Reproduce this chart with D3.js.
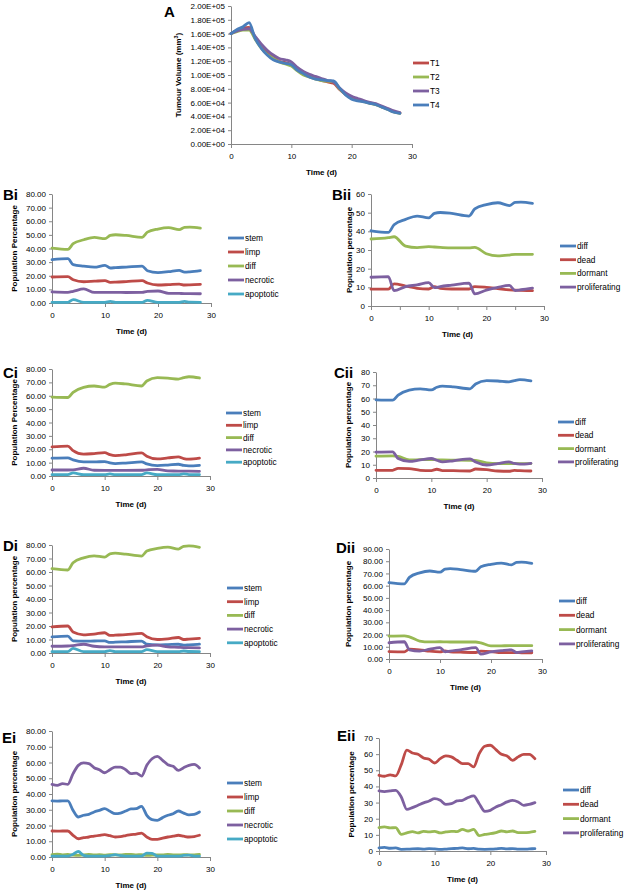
<!DOCTYPE html>
<html><head><meta charset="utf-8">
<script src="https://cdn.jsdelivr.net/npm/d3@7"></script>
<style>body{margin:0;background:#fff} svg{display:block} text{font-family:"Liberation Sans",Arial,sans-serif}</style>
</head><body><svg id="c" width="629" height="892"></svg>
<script>
// ---------- DATA ----------
const daysA = [0,1,2,3,4,5,6,7,8,9,10,11,12,13,14,15,16,17,18,19,20,21,22,23,24,25,26,27,28];
const A_T1 = [160000,165000,168000,169000,154000,141000,132000,125000,120000,118000,115000,108000,102000,98000,95000,92000,90000,88000,79000,72000,67000,64500,62000,59500,57500,54000,50500,47000,45000];
const A_T2 = [160000,163000,165000,165000,152000,139000,130000,124000,119000,116000,113000,106000,100000,97000,94000,92000,91000,90000,80000,72000,66000,63500,61500,59000,57000,53500,50000,46500,44500];
const A_T3 = [160000,164000,166000,167000,156000,145000,136000,129000,124000,122000,119000,111000,105000,101000,98000,95000,92000,90000,81000,74000,69000,66000,63000,60500,58500,55000,51500,48000,45500];
const A_T4 = [160000,166000,170000,176000,153000,139000,129000,122000,119000,117000,115000,107000,102000,97000,94000,93000,92000,91500,81000,71000,65000,62500,61000,59000,57000,53500,50000,46000,44500];

const daysBCD = [0,3,4,6,8,10,11,12,14,17,18,20,22,24,25,26,28];
const Bi_stem      = [31.8,32.5,28.1,27,26.3,27.6,25.7,26,26.4,27.1,23.7,22.3,23,24,22.7,22.9,23.7];
const Bi_limp      = [19.1,19.3,17.1,15.6,16,16.4,15.2,15.3,15.7,16.4,14.7,13.2,13.5,13.9,13.2,13.3,13.7];
const Bi_diff      = [40.3,39.4,43.5,46.4,48.2,47.2,49.6,50.1,49.6,48.2,52,54.3,55.3,53.8,55.5,55.7,55];
const Bi_necrotic  = [8.1,7.8,8.6,10.3,7.8,7.8,7.8,7.8,7.7,7.8,8.6,8.8,7.1,7,6.9,6.9,6.8];
const Bi_apoptotic = [0.5,0.5,2.5,0.5,0.5,0.5,1.2,0.5,0.5,0.5,2.0,0.5,0.5,0.5,1.2,0.6,0.5];
const Bii_diff     = [40.3,39.4,43.5,46.4,48.2,47.2,49.6,50.1,49.6,48.2,52,54.3,55.3,53.8,55.5,55.7,55];
const Bii_dead     = [9,9,11.8,10.7,9.5,9.1,10.4,9.5,9.1,9.1,10.4,10,9.3,8.6,8.5,8.4,8.2];
const Bii_dormant  = [35.9,36.6,37.1,32.1,31.3,31.8,31.6,31.4,31.1,31.1,31.4,28,26.8,27.3,27.7,27.7,27.7];
const Bii_prolif   = [15.4,15.7,8.2,10.4,11.3,12.5,9.8,10.4,11.2,12.3,6.5,8.5,10,11,8.3,8.7,9.6];

const Ci_stem      = [13.3,13.5,12,10.5,10.5,10.8,9.8,9.3,9.7,10.5,9,7.8,8.2,8.8,7.9,7.6,8];
const Ci_limp      = [21.8,22.3,19,16.3,16.8,17.5,16,15.3,15.8,17.3,14.8,12.8,13.5,14.3,13,12.6,13.3];
const Ci_diff      = [59,58.7,62.5,66.3,67.3,66.5,68.5,69.4,68.8,67.3,71,73.5,73.2,72.5,73.5,74.2,73.3];
const Ci_necrotic  = [4.5,4.5,4.6,5.8,4.3,4.2,4.2,4.2,4.2,4.3,4.6,5,3.8,3.7,3.6,3.6,3.5];
const Ci_apoptotic = [1,1,2.3,1,1,1,1.6,1,1,1,2.3,1,1,1,1.6,1.1,1];
const Cii_diff     = [59,58.7,62.5,66.3,67.3,66.5,68.5,69.4,68.8,67.3,71,73.5,73.2,72.5,73.5,74.2,73.3];
const Cii_dead     = [5.8,5.8,7.3,7.1,5.8,5.6,6.6,5.6,5.5,5.3,6.8,6.3,5.3,5.1,5.8,5.5,5.3];
const Cii_dormant  = [16.5,16.7,16.3,13.6,13.8,13.9,13.7,13.6,13.5,13.4,13.2,11.5,10.9,10.9,10.9,10.9,10.9];
const Cii_prolif   = [19.5,19.7,14.7,12.5,13.6,14.7,13.4,12.2,13,14.4,12,9.8,10.9,12.2,11,10.4,11.1];

const Di_stem      = [12,12.5,9,8.8,8.9,9,7.8,8,8.3,8.8,6.5,6,6.2,6.5,5.8,6,6.5];
const Di_limp      = [19.3,20,15.5,13.5,14,15,13,13.2,13.6,14.5,12,10,10.5,11.5,10,10.3,10.8];
const Di_diff      = [62.5,61.5,66.8,70.5,72,71,73.5,74,73.2,71.8,75.5,77.5,78.5,77,79,79.3,78.3];
const Di_necrotic  = [5,5.2,5.5,6.5,5,4.5,4.5,4.5,4.5,4.5,5.3,5.8,4.5,4.2,4,4,3.8];
const Di_apoptotic = [1,1,3.5,1,1,1,1.8,1,1,1,2.5,1,1,1,1.5,1.1,1];
const Dii_diff     = [62.5,61.5,66.8,70.5,72,71,73.5,74,73.2,71.8,75.5,77.5,78.5,77,79,79.3,78.3];
const Dii_dead     = [6.1,5.9,8,7.5,6.4,5.9,6.7,5.9,5.6,5.3,6.4,6.1,5.3,5.2,5.2,5.1,5.1];
const Dii_dormant  = [18.7,18.9,18.1,14.7,14,14.1,14,13.9,13.9,13.9,13.2,10.7,10.8,10.9,10.9,10.9,10.9];
const Dii_prolif   = [13.3,14.1,7.5,6.5,8,9.3,5.9,6.5,7.5,9.3,4,5.9,6.8,7.5,5.3,5.8,6.7];

const daysE = [0,1,2,3,4,5,6,7,8,9,10,11,12,13,14,15,16,17,18,19,20,21,22,23,24,25,26,27,28];
const Ei_stem      = [35.6,35.5,35.6,35.6,29.6,25.4,26.5,27.1,28.6,29.6,30.7,29,27.5,27.9,29.2,30.5,30.7,32.2,26.5,23.7,23.3,25,26.5,27.5,29.2,27.9,26.8,27.1,28.6];
const Ei_limp      = [16.5,16.4,16.5,16.5,13.8,11.6,12.3,12.7,13.3,13.8,14.2,13.5,12.7,13,13.6,14.2,14.5,15.2,12.7,11.2,11.2,12,12.7,13.2,13.8,13.2,12.7,13,13.8];
const Ei_diff      = [1.5,1.8,1.4,1.6,1.2,1.0,1.4,1.6,1.3,1.5,1.2,1.5,1.4,1.3,1.6,1.7,1.4,1.5,1.0,1.2,1.4,1.3,1.6,1.4,1.3,1.5,1.4,1.3,1.6];
const Ei_necrotic  = [46.1,45.5,46.6,46.1,52.9,58.2,59.7,59.3,56.7,55.4,53.5,55.4,57.1,57.1,55.4,52.9,53.3,51.4,58.2,62.4,63.9,61.4,58.6,57.6,55,56.7,58.2,58.8,56.5];
const Ei_apoptotic = [0.5,0.5,0.5,0.6,1.8,3.5,1.0,0.5,0.5,0.5,0.5,0.8,1.5,0.8,0.5,0.5,0.5,0.6,2.5,2.3,0.6,0.5,0.5,0.5,0.5,1.0,1.2,0.6,0.5];
const Eii_diff     = [2,2.3,1.7,1.9,1,1.1,1.3,1.4,1.2,1.5,1.3,1.0,1.2,1.5,1.6,1.9,1.4,1.6,1.1,1.0,1.1,1.3,1.6,1.3,1.5,1.2,1.1,1.3,1.5];
const Eii_dead     = [46.9,46.3,47.2,46.5,53.5,62.5,60.7,59.9,57.6,56.8,54.5,57.2,58.9,58.3,56.2,54.1,54.1,52.1,60.3,64.9,65.5,62.8,59.9,58.9,56.2,58.3,59.9,59.9,57.2];
const Eii_dormant  = [14.5,14.9,14.3,14.5,10.3,11.2,12,11.2,12.2,11.8,12.2,11.2,11.8,12.2,12,13.4,12.4,13.4,9.5,10.3,10.7,11.4,12.4,11.8,12.4,11.4,11.4,11.6,12.2];
const Eii_prolif   = [37.2,36.8,37.2,37.6,33.5,25.8,26.9,28.3,29.8,31,32.4,31.4,28.9,29.3,31,31.4,33.1,34.1,29.3,24.6,25.2,27.3,28.7,30.4,31.4,30.4,28.3,28.9,30];

const xTicks = [0,10,20,30];
// ---------- STYLE / LAYOUT ----------
const C = {blue:"#4a7ebb", red:"#be4b48", green:"#98b954", purple:"#7d60a0", cyan:"#46aac5"};
const sci = v => { if (v===0) return "0.00E+00"; const e=Math.floor(Math.log10(v)); const m=v/Math.pow(10,e); return m.toFixed(2)+"E+"+String(e).padStart(2,"0"); };
const f2 = d3.format(".2f"), f0 = d3.format("d");

const panels = [
 {lab:"A", lx:164, ly:17, x0:231,x1:412,yT:6,yB:144,ymax:2e5,step:2e4,fmt:sci, ylab:"Tumour Volume (mm", sup:true, ylx:181, legX:413, legY:63, legDy:14, t:daysA,
  s:[["T1",A_T1,C.red],["T2",A_T2,C.green],["T3",A_T3,C.purple],["T4",A_T4,C.blue]]},
 {lab:"Bi", lx:3, ly:200, x0:52,x1:211,yT:194,yB:303,ymax:80,step:10,fmt:f2, ylab:"Population Percentage", ylx:17, legX:228, legY:238, legDy:14, t:daysBCD,
  s:[["stem",Bi_stem,C.blue],["limp",Bi_limp,C.red],["diff",Bi_diff,C.green],["necrotic",Bi_necrotic,C.purple],["apoptotic",Bi_apoptotic,C.cyan]]},
 {lab:"Bii", lx:332, ly:200, x0:371,x1:544,yT:194,yB:306,ymax:60,step:10,fmt:f0, ylab:"Population percentage", ylx:352, legX:560, legY:246, legDy:13.7, t:daysBCD, minor:true,
  s:[["diff",Bii_diff,C.blue],["dead",Bii_dead,C.red],["dormant",Bii_dormant,C.green],["proliferating",Bii_prolif,C.purple]]},
 {lab:"Ci", lx:3, ly:378, x0:52,x1:210,yT:369,yB:476,ymax:80,step:10,fmt:f2, ylab:"Population Percentage", ylx:17, legX:226, legY:413, legDy:12.3, t:daysBCD,
  s:[["stem",Ci_stem,C.blue],["limp",Ci_limp,C.red],["diff",Ci_diff,C.green],["necrotic",Ci_necrotic,C.purple],["apoptotic",Ci_apoptotic,C.cyan]]},
 {lab:"Cii", lx:334, ly:378, x0:376,x1:542,yT:372,yB:478,ymax:80,step:10,fmt:f0, ylab:"Population percentage", ylx:351, legX:558, legY:422, legDy:13.3, t:daysBCD,
  s:[["diff",Cii_diff,C.blue],["dead",Cii_dead,C.red],["dormant",Cii_dormant,C.green],["proliferating",Cii_prolif,C.purple]]},
 {lab:"Di", lx:3, ly:551, x0:52,x1:210,yT:545,yB:653,ymax:80,step:10,fmt:f2, ylab:"Population percentage", ylx:17, legX:227, legY:588, legDy:13.7, t:daysBCD,
  s:[["stem",Di_stem,C.blue],["limp",Di_limp,C.red],["diff",Di_diff,C.green],["necrotic",Di_necrotic,C.purple],["apoptotic",Di_apoptotic,C.cyan]]},
 {lab:"Dii", lx:336, ly:553, x0:389,x1:542,yT:549,yB:659,ymax:90,step:10,fmt:f2, ylab:"Population percentage", ylx:351, legX:559, legY:601, legDy:14.3, t:daysBCD,
  s:[["diff",Dii_diff,C.blue],["dead",Dii_dead,C.red],["dormant",Dii_dormant,C.green],["proliferating",Dii_prolif,C.purple]]},
 {lab:"Ei", lx:2, ly:743, x0:52,x1:210,yT:731,yB:857,ymax:80,step:10,fmt:f2, ylab:"Population percentage", ylx:17, legX:227, legY:783, legDy:14, t:daysE,
  s:[["stem",Ei_stem,C.blue],["limp",Ei_limp,C.red],["diff",Ei_diff,C.green],["necrotic",Ei_necrotic,C.purple],["apoptotic",Ei_apoptotic,C.cyan]]},
 {lab:"Eii", lx:337, ly:741, x0:379,x1:546,yT:738,yB:851,ymax:70,step:10,fmt:f0, ylab:"Population percentage", ylx:354, legX:563, legY:790, legDy:14.3, t:daysE,
  s:[["diff",Eii_diff,C.blue],["dead",Eii_dead,C.red],["dormant",Eii_dormant,C.green],["proliferating",Eii_prolif,C.purple]]}
];

const svg = d3.select("#c");
const AX = "#868686";

panels.forEach(p => {
  const g = svg.append("g");
  const x = d3.scaleLinear().domain([0,30]).range([p.x0,p.x1]);
  const y = d3.scaleLinear().domain([0,p.ymax]).range([p.yB,p.yT]);
  const yt = d3.range(0, p.ymax + p.step/2, p.step);

  const ya = g.append("g").attr("transform",`translate(${p.x0},0)`)
    .call(d3.axisLeft(y).tickValues(yt).tickFormat(p.fmt).tickSize(3).tickSizeOuter(0).tickPadding(3));
  const xv = p.minor ? [0,5,10,15,20,25,30] : xTicks;
  const xa = g.append("g").attr("transform",`translate(0,${p.yB})`)
    .call(d3.axisBottom(x).tickValues(xv).tickFormat(d => d%10===0 ? d : "").tickSize(4).tickSizeOuter(0).tickPadding(5));
  [ya,xa].forEach(a => {
    a.select(".domain").attr("stroke",AX).attr("stroke-width",1);
    a.selectAll(".tick line").attr("stroke",AX);
    a.selectAll(".tick text").attr("fill","#000").attr("font-size",8).attr("font-family","Liberation Sans, Arial, sans-serif");
  });

  const line = d3.line().x((d,i)=>x(p.t[i])).y(d=>y(d)).curve(d3.curveMonotoneX);
  p.s.forEach(([name,vals,col]) => {
    g.append("path").attr("d", line(vals)).attr("fill","none").attr("stroke",col)
      .attr("stroke-width",2.8).attr("stroke-linejoin","round").attr("stroke-linecap","round");
  });

  // legend
  p.s.forEach(([name,vals,col],i) => {
    const ly = p.legY + i*p.legDy;
    g.append("line").attr("x1",p.legX).attr("x2",p.legX+16).attr("y1",ly).attr("y2",ly)
      .attr("stroke",col).attr("stroke-width",2.8);
    g.append("text").attr("x",p.legX+17).attr("y",ly+3).attr("font-size",8.3).attr("fill","#000").text(name);
  });

  // axis titles
  g.append("text").attr("x",(p.x0+p.x1)/2).attr("y",p.yB+31).attr("text-anchor","middle")
    .attr("font-size",8).attr("font-weight","bold").text("Time (d)");
  const yl = g.append("text").attr("transform",`translate(${p.ylx},${(p.yT+p.yB)/2}) rotate(-90)`)
    .attr("text-anchor","middle").attr("font-size",8).attr("font-weight","bold");
  if (p.sup) {
    yl.append("tspan").text(p.ylab);
    yl.append("tspan").attr("font-size",5.5).attr("dy",-3).text("3");
    yl.append("tspan").attr("dy",3).text(")");
  } else yl.text(p.ylab);

  // panel label
  g.append("text").attr("x",p.lx).attr("y",p.ly).attr("font-size",15).attr("font-weight","bold").text(p.lab);
});
</script></body></html>
